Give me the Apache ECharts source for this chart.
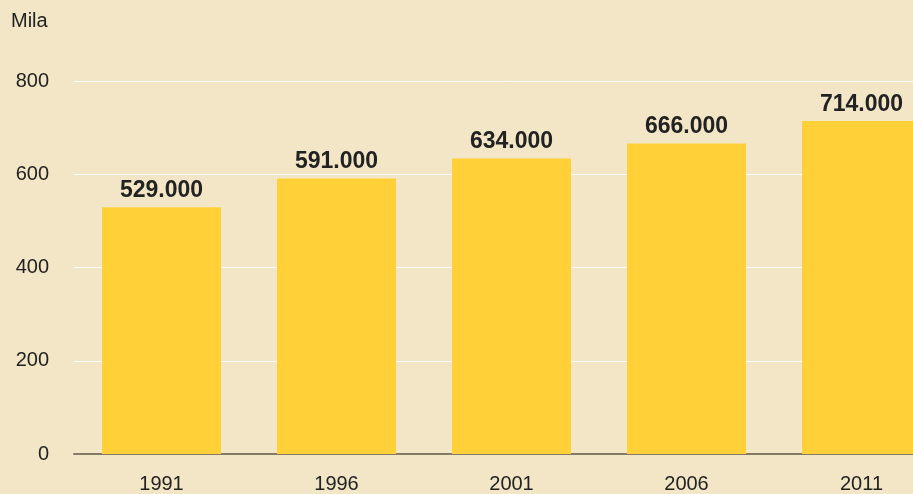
<!DOCTYPE html>
<html>
<head>
<meta charset="utf-8">
<script src="https://cdn.jsdelivr.net/npm/echarts@6/dist/echarts.min.js"></script>
<style>
  html, body { margin: 0; padding: 0; background: #f2e6c6; overflow: hidden; }
  #chart { width: 949px; height: 494px; }
</style>
</head>
<body>
<div id="chart"></div>
<script>
// Data
const years = ['1991', '1996', '2001', '2006', '2011'];
const values = [529, 591, 634, 666, 714];          // thousands
const valueLabels = ['529.000', '591.000', '634.000', '666.000', '714.000'];
const yTicks = [0, 200, 400, 600, 800];

const chart = echarts.init(document.getElementById('chart'));

// the reference is cut off on the right, so the chart is wider than the window
const option = {
    backgroundColor: '#f2e6c6',
    textStyle: { fontFamily: 'Liberation Sans, Arial, sans-serif' },
    grid: { left: 74, right: 0, top: 81, bottom: 38 },
    graphic: [{
        type: 'text',
        left: 11,
        top: 11,
        style: { text: 'Mila', font: '20px Liberation Sans, Arial, sans-serif', fill: '#222' }
    }],
    xAxis: {
        type: 'category',
        data: years,
        axisTick: { show: false },
        axisLine: { lineStyle: { color: '#857a68', width: 2 } },
        axisLabel: { color: '#222', fontSize: 20, margin: 20 }
    },
    yAxis: {
        type: 'value',
        min: yTicks[0],
        max: yTicks[yTicks.length - 1],
        interval: 200,
        axisLine: { show: false },
        axisTick: { show: false },
        axisLabel: { color: '#222', fontSize: 20, margin: 25 },
        splitLine: { lineStyle: { color: '#ffffff', width: 1 } }
    },
    series: [{
        type: 'bar',
        data: values,
        barWidth: '68%',
        itemStyle: { color: '#ffd038' },
        label: {
            show: true,
            position: 'top',
            distance: 5,
            color: '#222',
            fontSize: 23,
            fontWeight: 'bold',
            formatter: p => valueLabels[p.dataIndex]
        }
    }],
    animation: false
};

chart.setOption(option);
</script>
</body>
</html>
